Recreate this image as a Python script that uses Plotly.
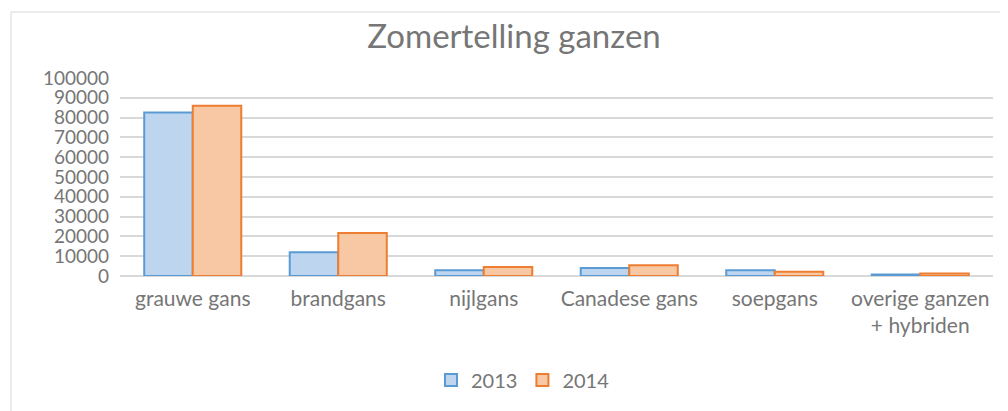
import plotly.graph_objects as go

categories = ["grauwe gans", "brandgans", "nijlgans", "Canadese gans", "soepgans", "overige ganzen<br>+ hybriden"]
values_2013 = [82600, 12000, 2900, 4100, 2900, 700]
values_2014 = [86000, 21700, 4600, 5400, 2200, 1200]
series_names = ["2013", "2014"]

# page body has an 8px margin, so the figure is drawn at (8, 8)
OFF = 8
W, H = 1000, 403
ml, mt = 120 - OFF, 78 - OFF
pw = 873
ph = 276 - 78
mr = W - ml - pw
mb = H - mt - ph

TXT = "#767676"

fig = go.Figure()
fig.add_trace(go.Bar(
    x=categories, y=values_2013, name=series_names[0],
    marker=dict(color="#bdd5ee", line=dict(color="#5b9bd5", width=2)),
))
fig.add_trace(go.Bar(
    x=categories, y=values_2014, name=series_names[1],
    marker=dict(color="#f8c8a4", line=dict(color="#ed7d31", width=2)),
))

def px_x(p):
    return (p - OFF - ml) / pw
def px_y(p):
    return (H - mb - (p - OFF)) / ph

# chart-area border (light gray)
fig.add_shape(type="line", xref="paper", yref="paper",
              x0=px_x(11), x1=px_x(11), y0=px_y(12), y1=px_y(430),
              line=dict(color="#d9d9d9", width=1))
fig.add_shape(type="line", xref="paper", yref="paper",
              x0=px_x(11), x1=px_x(1020), y0=px_y(12), y1=px_y(12),
              line=dict(color="#d9d9d9", width=1))

fig.update_layout(
    width=W, height=H,
    margin=dict(l=ml, r=mr, t=mt, b=mb),
    paper_bgcolor="white", plot_bgcolor="white",
    font=dict(family="Lato", color=TXT, size=20),
    title=dict(text="Zomertelling ganzen", x=(514 - OFF) / W, xanchor="center",
               y=1 - (36 - OFF) / H, yanchor="middle",
               font=dict(size=33, color=TXT, family="Lato")),
    barmode="group", bargap=0.333, bargroupgap=0,
    showlegend=True,
    legend=dict(orientation="h", x=(523 - OFF) / W, xref="container", xanchor="center",
                y=1 - (380 - OFF) / H, yref="container", yanchor="middle",
                font=dict(size=20, color=TXT), itemwidth=30),
    xaxis=dict(showgrid=False, showline=False, ticks="", tickfont=dict(size=21),
               ticklabelstandoff=8),
    yaxis=dict(range=[0, 100000], dtick=10000, tickformat="d",
               showgrid=True, gridcolor="#d9d9d9", gridwidth=1.5,
               zeroline=True, zerolinecolor="#d9d9d9", zerolinewidth=1.5,
               showline=False, ticks="", tickfont=dict(size=19),
               ticklabelstandoff=10),
)

fig.write_html("out.html")
